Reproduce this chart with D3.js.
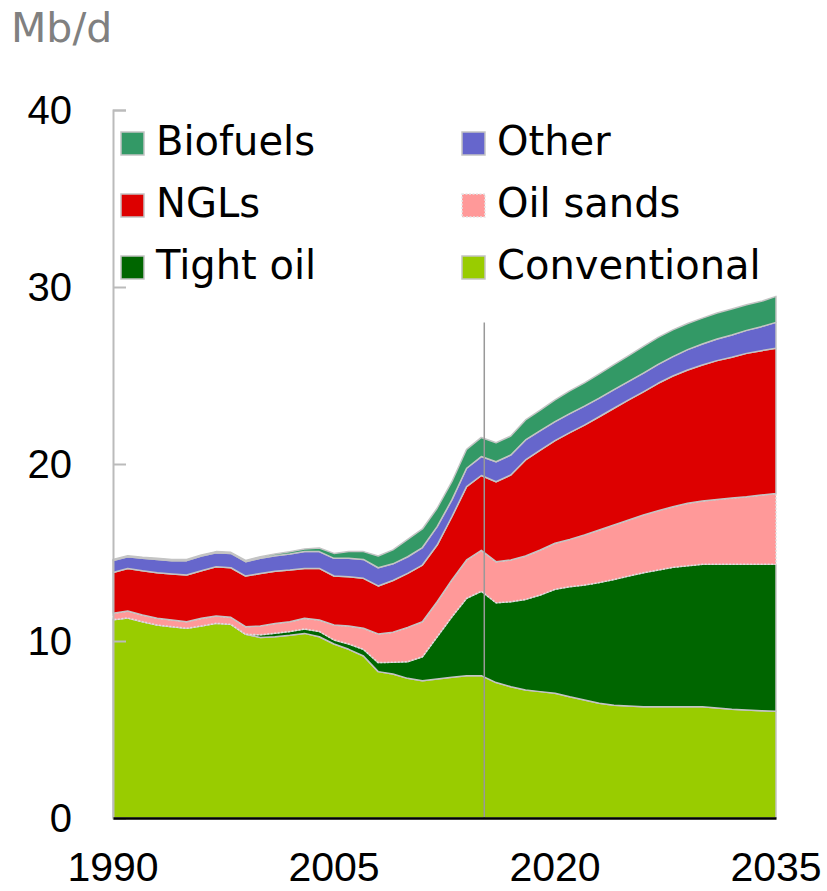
<!DOCTYPE html>
<html>
<head>
<meta charset="utf-8">
<script src="https://cdn.jsdelivr.net/npm/d3@7"></script>
<style>
  body { margin: 0; background: #fff; }
  svg { display: block; }
</style>
</head>
<body>
<svg id="chart" width="827" height="891"></svg>
<script>
var years = [1990, 1991, 1992, 1993, 1994, 1995, 1996, 1997, 1998, 1999,
             2000, 2001, 2002, 2003, 2004, 2005, 2006, 2007, 2008, 2009,
             2010, 2011, 2012, 2013, 2014, 2015, 2016, 2017, 2018, 2019,
             2020, 2021, 2022, 2023, 2024, 2025, 2026, 2027, 2028, 2029,
             2030, 2031, 2032, 2033, 2034, 2035];

var conventional = [11.2, 11.3, 11.09, 10.9, 10.81, 10.72, 10.85, 11.0, 10.94, 10.38,
                    10.2, 10.24, 10.32, 10.43, 10.24, 9.83, 9.53, 9.15, 8.27, 8.14,
                    7.89, 7.76, 7.85, 7.95, 8.04, 8.04, 7.65, 7.42, 7.23, 7.14,
                    7.05, 6.85, 6.67, 6.48, 6.37, 6.33, 6.29, 6.29, 6.29, 6.29,
                    6.29, 6.21, 6.14, 6.1, 6.06, 6.03];
var tightOil = [0, 0, 0, 0, 0, 0, 0, 0, 0, 0,
                0.15, 0.2, 0.22, 0.25, 0.3, 0.23, 0.3, 0.38, 0.51, 0.66,
                0.94, 1.35, 2.39, 3.42, 4.37, 4.77, 4.51, 4.8, 5.12, 5.46,
                5.87, 6.22, 6.49, 6.82, 7.11, 7.34, 7.57, 7.72, 7.87, 7.96,
                8.04, 8.12, 8.19, 8.23, 8.27, 8.3];
var oilSands = [0.37, 0.39, 0.38, 0.38, 0.38, 0.37, 0.43, 0.41, 0.4, 0.43,
                0.5, 0.55, 0.55, 0.6, 0.65, 0.84, 1.02, 1.19, 1.62, 1.7,
                1.94, 1.98, 1.98, 2.08, 2.17, 2.31, 2.32, 2.36, 2.45, 2.54,
                2.6, 2.67, 2.83, 2.97, 3.07, 3.17, 3.26, 3.35, 3.43, 3.53,
                3.58, 3.67, 3.75, 3.82, 3.92, 4.01];
var ngls = [2.3, 2.41, 2.5, 2.58, 2.6, 2.64, 2.69, 2.79, 2.8, 2.86,
            2.96, 2.95, 2.92, 2.82, 2.91, 2.77, 2.78, 2.82, 2.71, 2.92,
            3.05, 3.2, 3.2, 3.57, 4.14, 4.23, 4.52, 4.8, 5.43, 5.65,
            5.8, 6.03, 6.21, 6.4, 6.6, 6.78, 6.96, 7.2, 7.38, 7.53,
            7.68, 7.84, 7.95, 8.1, 8.15, 8.2];
var other = [0.68, 0.66, 0.7, 0.75, 0.75, 0.81, 0.83, 0.79, 0.81, 0.81,
             0.87, 0.87, 0.91, 0.95, 0.95, 1.0, 1.04, 1.07, 1.03, 0.94,
             0.94, 0.99, 1.04, 0.95, 1.04, 1.07, 1.13, 1.13, 1.13, 1.09,
             1.07, 1.08, 1.07, 1.05, 1.05, 1.05, 1.06, 1.07, 1.1, 1.15,
             1.19, 1.22, 1.26, 1.3, 1.36, 1.46];
var biofuels = [0.06, 0.06, 0.06, 0.06, 0.06, 0.06, 0.06, 0.06, 0.06, 0.07,
                0.08, 0.1, 0.12, 0.15, 0.2, 0.28, 0.38, 0.44, 0.66, 0.79,
                0.98, 1.05, 1.04, 1.03, 1.07, 1.08, 1.07, 1.07, 1.13, 1.17,
                1.23, 1.28, 1.31, 1.37, 1.41, 1.45, 1.5, 1.52, 1.51, 1.48,
                1.46, 1.47, 1.47, 1.45, 1.43, 1.47];

var seriesNames = ['Conventional', 'Tight oil', 'Oil sands', 'NGLs', 'Other', 'Biofuels'];
var seriesColors = ['#99cc00', '#006600', '#ff9999', '#dd0000', '#6666cc', '#339966'];
var yTicks = [0, 10, 20, 30, 40];
var xTicks = [1990, 2005, 2020, 2035];
var forecastStart = 2015.2;
var forecastTop = 28;

// legend order as in the original: two columns, three rows
var legendOrder = ['Biofuels', 'Other', 'NGLs', 'Oil sands', 'Tight oil', 'Conventional'];

var table = years.map(function(y, i) {
    return {
        year: y,
        'Conventional': conventional[i],
        'Tight oil': tightOil[i],
        'Oil sands': oilSands[i],
        'NGLs': ngls[i],
        'Other': other[i],
        'Biofuels': biofuels[i]
    };
});

var svg = d3.select('#chart');

var x = d3.scaleLinear().domain([1990, 2035]).range([113, 776]);
var y = d3.scaleLinear().domain([0, 40]).range([818, 110]);

var color = d3.scaleOrdinal().domain(seriesNames).range(seriesColors);

var stack = d3.stack().keys(seriesNames);
var layers = stack(table);

var area = d3.area()
    .x(function(d) { return x(d.data.year); })
    .y0(function(d) { return y(d[0]); })
    .y1(function(d) { return y(d[1]); });

svg.append('g')
    .selectAll('path')
    .data(layers)
    .enter()
    .append('path')
    .attr('d', area)
    .attr('fill', function(d) { return color(d.key); })
    .attr('stroke', function(d) { return d.key === 'Oil sands' ? '#e0e0e0' : '#c4c4c4'; })
    .attr('stroke-width', 1.5)
    .attr('stroke-dasharray', function(d) { return d.key === 'Oil sands' ? '2,1.5' : null; })
    .attr('stroke-linejoin', 'round');

// start of projection
svg.append('line')
    .attr('x1', x(forecastStart)).attr('x2', x(forecastStart))
    .attr('y1', y(forecastTop)).attr('y2', y(0))
    .attr('stroke', '#999')
    .attr('stroke-width', 1.5);

// y axis: grey line with ticks pointing inward
var yAxis = d3.axisRight(y)
    .tickValues(yTicks)
    .tickSize(13)
    .tickFormat('');

var yg = svg.append('g')
    .attr('transform', 'translate(' + x(1990) + ',0)')
    .call(yAxis);
yg.select('.domain').attr('stroke', '#bbb').attr('stroke-width', 2);
yg.selectAll('.tick line').attr('stroke', '#bbb').attr('stroke-width', 2);

svg.append('g')
    .selectAll('text')
    .data(yTicks)
    .enter()
    .append('text')
    .attr('x', 72)
    .attr('y', function(d) { return y(d); })
    .attr('dy', '0.36em')
    .attr('text-anchor', 'end')
    .style('font-family', 'Liberation Sans, Arial, sans-serif')
    .style('font-size', '40px')
    .attr('fill', '#000')
    .text(function(d) { return d; });

// x axis: black baseline
var xAxis = d3.axisBottom(x)
    .tickValues(xTicks)
    .tickSize(0)
    .tickFormat('');

var xg = svg.append('g')
    .attr('transform', 'translate(0,' + y(0) + ')')
    .call(xAxis);
xg.select('.domain').attr('stroke', '#000').attr('stroke-width', 2.5);

svg.append('g')
    .selectAll('text')
    .data(xTicks)
    .enter()
    .append('text')
    .attr('x', function(d) { return x(d); })
    .attr('y', 881)
    .attr('text-anchor', 'middle')
    .style('font-family', 'Liberation Sans, Arial, sans-serif')
    .style('font-size', '41px')
    .attr('fill', '#000')
    .text(function(d) { return d; });

// unit label
svg.append('text')
    .attr('x', 11)
    .attr('y', 42)
    .style('font-family', 'DejaVu Sans, sans-serif')
    .style('font-size', '41px')
    .attr('fill', '#808080')
    .text('Mb/d');

// legend
var legend = svg.append('g')
    .selectAll('g')
    .data(legendOrder)
    .enter()
    .append('g')
    .attr('transform', function(d, i) {
        var col = i % 2, row = Math.floor(i / 2);
        return 'translate(' + (col === 0 ? 121 : 462) + ',' + (132 + row * 62) + ')';
    });

legend.append('rect')
    .attr('width', 23)
    .attr('height', 23)
    .attr('fill', function(d) { return color(d); })
    .attr('stroke', function(d) { return d === 'Oil sands' ? '#e6e6e6' : '#c4c4c4'; })
    .attr('stroke-width', 1.5)
    .attr('stroke-dasharray', function(d) { return d === 'Oil sands' ? '2,1.5' : null; });

legend.append('text')
    .attr('x', 35)
    .attr('y', 23)
    .style('font-family', 'DejaVu Sans, sans-serif')
    .style('font-size', '40px')
    .attr('fill', '#000')
    .text(function(d) { return d; });
</script>
</body>
</html>
